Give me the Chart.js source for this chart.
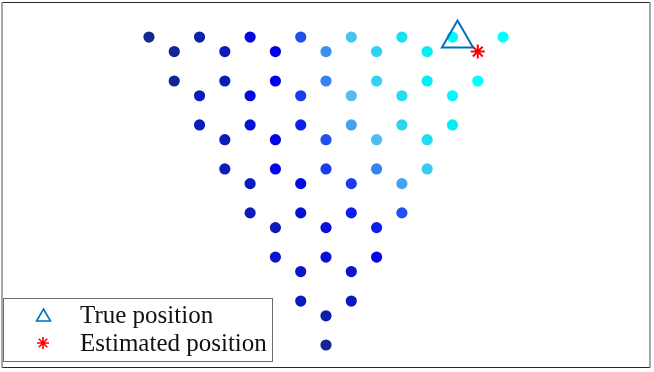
<!DOCTYPE html>
<html>
<head>
<meta charset="utf-8">
<script src="https://cdn.jsdelivr.net/npm/chart.js@4.4.1/dist/chart.umd.min.js"></script>
<style>
  html, body { margin: 0; padding: 0; background: #fff; }
  #wrap { width: 654px; height: 372px; }
</style>
</head>
<body>
<div id="wrap"><canvas id="chart" width="654" height="372"></canvas></div>
<script>
// row heights of the array, top to bottom
const rowY = [12.12, 11.55, 10.39, 9.81, 8.66, 8.08, 6.93, 6.35, 5.2, 4.62, 3.46, 2.89, 1.73, 1.15, 0];

// x positions of the elements in each row
const rowX = [
  [-7, -5, -3, -1, 1, 3, 5, 7],
  [-6, -4, -2, 0, 2, 4],
  [-6, -4, -2, 0, 2, 4, 6],
  [-5, -3, -1, 1, 3, 5],
  [-5, -3, -1, 1, 3, 5],
  [-4, -2, 0, 2, 4],
  [-4, -2, 0, 2, 4],
  [-3, -1, 1, 3],
  [-3, -1, 1, 3],
  [-2, 0, 2],
  [-2, 0, 2],
  [-1, 1],
  [-1, 1],
  [0],
  [0],
];

// normalised level of each element (0 = dark, 1 = cyan)
const rowLevel = [
  [0.0, 0.12, 0.38, 0.58, 0.8, 0.9, 0.98, 1.0],
  [0.05, 0.2, 0.45, 0.68, 0.85, 0.95],
  [0.05, 0.2, 0.45, 0.66, 0.85, 0.95, 1.0],
  [0.2, 0.38, 0.55, 0.77, 0.88, 0.98],
  [0.2, 0.33, 0.5, 0.72, 0.85, 0.94],
  [0.2, 0.42, 0.58, 0.77, 0.88],
  [0.2, 0.42, 0.55, 0.66, 0.82],
  [0.2, 0.38, 0.55, 0.72],
  [0.2, 0.33, 0.5, 0.58],
  [0.2, 0.33, 0.5],
  [0.3, 0.33, 0.42],
  [0.25, 0.3],
  [0.2, 0.25],
  [0.15],
  [0.05],
];

const truePos = [{ x: 5.2, y: 12.06 }];
const estPos = [{ x: 6.0, y: 11.55 }];

const legendLabels = ["True position", "Estimated position"];

// colour map stops
const CMAP = [
  [0.0, [20, 42, 140]],
  [0.15, [12, 32, 176]],
  [0.3, [8, 20, 208]],
  [0.45, [0, 0, 240]],
  [0.55, [26, 60, 240]],
  [0.68, [58, 143, 240]],
  [0.77, [80, 188, 240]],
  [0.85, [48, 212, 240]],
  [0.95, [0, 240, 244]],
  [1.0, [0, 255, 255]],
];

function levelColor(v) {
  for (let i = 1; i < CMAP.length; i++) {
    if (v <= CMAP[i][0]) {
      const [a0, c0] = CMAP[i - 1];
      const [a1, c1] = CMAP[i];
      const t = (v - a0) / (a1 - a0);
      const c = c0.map((k, j) => Math.round(k + (c1[j] - k) * t));
      return `rgb(${c[0]},${c[1]},${c[2]})`;
    }
  }
  return "rgb(0,255,255)";
}

const points = [];
const colors = [];
rowY.forEach((y, r) => {
  rowX[r].forEach((x, i) => {
    points.push({ x, y });
    colors.push(levelColor(rowLevel[r][i]));
  });
});

const TRUE_COLOR = "#0072BD";
const EST_COLOR = "#ff0000";

const frame = {
  id: "frame",
  afterDatasetsDraw(chart) {
    const { ctx, chartArea: a } = chart;
    ctx.save();
    ctx.lineWidth = 1;
    ctx.strokeStyle = "#262626";
    ctx.beginPath();
    ctx.moveTo(a.left, a.top + 0.5);
    ctx.lineTo(a.right, a.top + 0.5);
    ctx.moveTo(a.left, a.bottom + 0.5);
    ctx.lineTo(a.right, a.bottom + 0.5);
    ctx.stroke();
    ctx.strokeStyle = "#8a8a8a";
    ctx.lineWidth = 1.5;
    ctx.beginPath();
    ctx.moveTo(a.left, a.top);
    ctx.lineTo(a.left, a.bottom + 1);
    ctx.moveTo(a.right, a.top);
    ctx.lineTo(a.right, a.bottom + 1);
    ctx.stroke();
    ctx.restore();
  },
};

const boxLegend = {
  id: "boxLegend",
  afterDraw(chart) {
    const { ctx } = chart;
    ctx.save();
    ctx.fillStyle = "#fff";
    ctx.fillRect(3.5, 298.5, 269, 63);
    ctx.strokeStyle = "#6e6e6e";
    ctx.lineWidth = 1;
    ctx.strokeRect(3.5, 298.5, 269, 63);

    // triangle marker
    const tx = 43.5, ty = 317, tr = 8;
    ctx.strokeStyle = TRUE_COLOR;
    ctx.lineWidth = 1.6;
    ctx.beginPath();
    for (let k = 0; k < 3; k++) {
      const ang = (k * 2 * Math.PI) / 3;
      const px = tx + Math.sin(ang) * tr;
      const py = ty - Math.cos(ang) * tr;
      if (k === 0) ctx.moveTo(px, py);
      else ctx.lineTo(px, py);
    }
    ctx.closePath();
    ctx.stroke();

    // asterisk marker
    const sx = 43, sy = 343, sr = 6;
    ctx.strokeStyle = EST_COLOR;
    ctx.lineWidth = 1.6;
    ctx.beginPath();
    for (let k = 0; k < 4; k++) {
      const ang = (k * Math.PI) / 4;
      ctx.moveTo(sx - Math.cos(ang) * sr, sy - Math.sin(ang) * sr);
      ctx.lineTo(sx + Math.cos(ang) * sr, sy + Math.sin(ang) * sr);
    }
    ctx.stroke();

    ctx.fillStyle = "#111";
    ctx.font = "25px 'Liberation Serif', serif";
    ctx.textBaseline = "alphabetic";
    ctx.fillText(legendLabels[0], 80, 322.5);
    ctx.fillText(legendLabels[1], 80, 350.5);
    ctx.restore();
  },
};

new Chart(document.getElementById("chart"), {
  type: "scatter",
  data: {
    datasets: [
      {
        label: legendLabels[1],
        data: estPos,
        order: 1,
        pointStyle: "star",
        pointRadius: 7,
        pointBorderWidth: 2,
        borderColor: EST_COLOR,
        backgroundColor: EST_COLOR,
      },
      {
        label: legendLabels[0],
        data: truePos,
        order: 2,
        pointStyle: "triangle",
        pointRadius: 18,
        pointBorderWidth: 2,
        borderColor: TRUE_COLOR,
        backgroundColor: "rgba(0,0,0,0)",
      },
      {
        label: "Array",
        data: points,
        order: 3,
        pointRadius: 5.6,
        pointBorderWidth: 0,
        pointBackgroundColor: colors,
        borderColor: "rgba(0,0,0,0)",
      },
    ],
  },
  options: {
    responsive: false,
    animation: false,
    layout: { autoPadding: false, padding: { left: 2, right: 4, top: 2, bottom: 5 } },
    plugins: {
      legend: { display: false },
      tooltip: { enabled: false },
    },
    scales: {
      x: { type: "linear", display: false, min: -12.81, max: 12.81 },
      y: { type: "linear", display: false, min: -0.866, max: 13.5 },
    },
  },
  plugins: [frame, boxLegend],
});
</script>
</body>
</html>
